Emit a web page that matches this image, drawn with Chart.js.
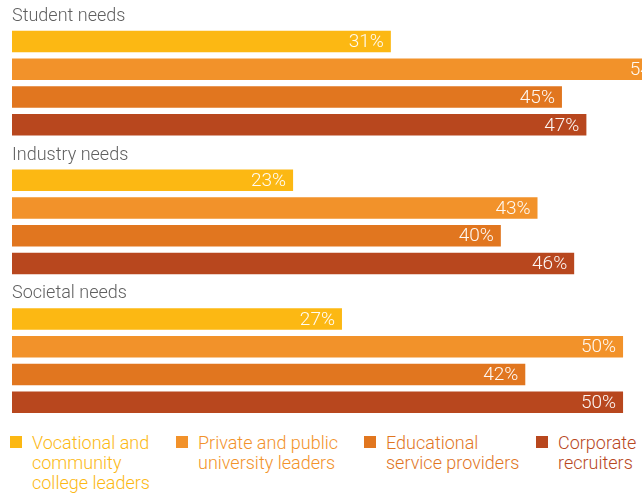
<!DOCTYPE html>
<html>
<head>
<meta charset="utf-8">
<script src="https://cdn.jsdelivr.net/npm/chart.js@4/dist/chart.umd.min.js"></script>
<style>
  html, body { margin: 0; padding: 0; background: #fff; }
  #wrap { position: relative; width: 642px; height: 493px; overflow: hidden; font-family: Roboto, "Liberation Sans", sans-serif; font-weight: 300; }
  #c { position: absolute; left: 0; top: 0; }
  .leg { position: absolute; top: 433px; font-size: 18px; line-height: 20px; }
  .leg .box { position: absolute; left: 0; top: 3px; width: 12px; height: 12px; }
  .leg .txt { position: absolute; white-space: nowrap; }
</style>
</head>
<body>
<div id="wrap">
  <canvas id="c" width="642" height="416"></canvas>
  <div id="legend"></div>
</div>
<script>
const categories = ["Student needs", "Industry needs", "Societal needs"];
const seriesNames = [
  ["Vocational and", "community", "college leaders"],
  ["Private and public", "university leaders"],
  ["Educational", "service providers"],
  ["Corporate", "recruiters"]
];
const vocational = [31, 23, 27];
const privatePublic = [54, 43, 50];
const educational = [45, 40, 42];
const corporate = [47, 46, 50];
const colors = ["#FCB813", "#F2922A", "#E1761F", "#B8471E"];

const seriesValues = [vocational, privatePublic, educational, corporate];

const datasets = [{ label: "_title", data: categories.map(() => null), backgroundColor: "rgba(0,0,0,0)" }];
seriesValues.forEach((vals, i) => {
  datasets.push({
    label: seriesNames[i].join(" "),
    data: vals,
    backgroundColor: colors[i],
    borderWidth: 0
  });
});

const labelPlugin = {
  id: "labels",
  afterDatasetsDraw(chart) {
    const ctx = chart.ctx;
    const area = chart.chartArea;
    ctx.save();
    // group titles
    const band = (area.bottom - area.top) / categories.length;
    ctx.font = "300 18px Roboto, 'Liberation Sans', sans-serif";
    ctx.fillStyle = "#5f5f5f";
    ctx.textAlign = "left";
    ctx.textBaseline = "middle";
    categories.forEach((c, i) => {
      const y = area.top + i * band + band / 10 + 2.5;
      ctx.fillText(c, area.left, y);
    });
    // value labels
    ctx.font = "300 19px Roboto, 'Liberation Sans', sans-serif";
    ctx.fillStyle = "rgba(255,255,255,0.95)";
    ctx.textAlign = "right";
    for (let d = 1; d < chart.data.datasets.length; d++) {
      const meta = chart.getDatasetMeta(d);
      meta.data.forEach((el, j) => {
        const v = chart.data.datasets[d].data[j];
        if (v == null) return;
        ctx.fillText(v + "%", el.x - 7, el.y + 1);
      });
    }
    ctx.restore();
  }
};

new Chart(document.getElementById("c"), {
  type: "bar",
  data: { labels: categories, datasets },
  options: {
    indexAxis: "y",
    responsive: false,
    animation: false,
    devicePixelRatio: 1,
    layout: { padding: { left: 12, right: 0, top: 0, bottom: 0 } },
    datasets: { bar: { categoryPercentage: 1, barPercentage: 0.775 } },
    scales: {
      x: { display: false, min: 0, max: 51.55 },
      y: { display: false }
    },
    plugins: { legend: { display: false }, tooltip: { enabled: false } }
  },
  plugins: [labelPlugin]
});

// HTML legend
const legendPos = [10, 176, 364, 536];
const legend = document.getElementById("legend");
seriesNames.forEach((lines, i) => {
  const item = document.createElement("div");
  item.className = "leg";
  item.style.left = legendPos[i] + "px";
  item.style.color = colors[i];
  const box = document.createElement("div");
  box.className = "box";
  box.style.background = colors[i];
  const txt = document.createElement("div");
  txt.className = "txt";
  txt.style.left = "22px";
  txt.innerHTML = lines.join("<br>");
  item.appendChild(box);
  item.appendChild(txt);
  legend.appendChild(item);
});
</script>
</body>
</html>
